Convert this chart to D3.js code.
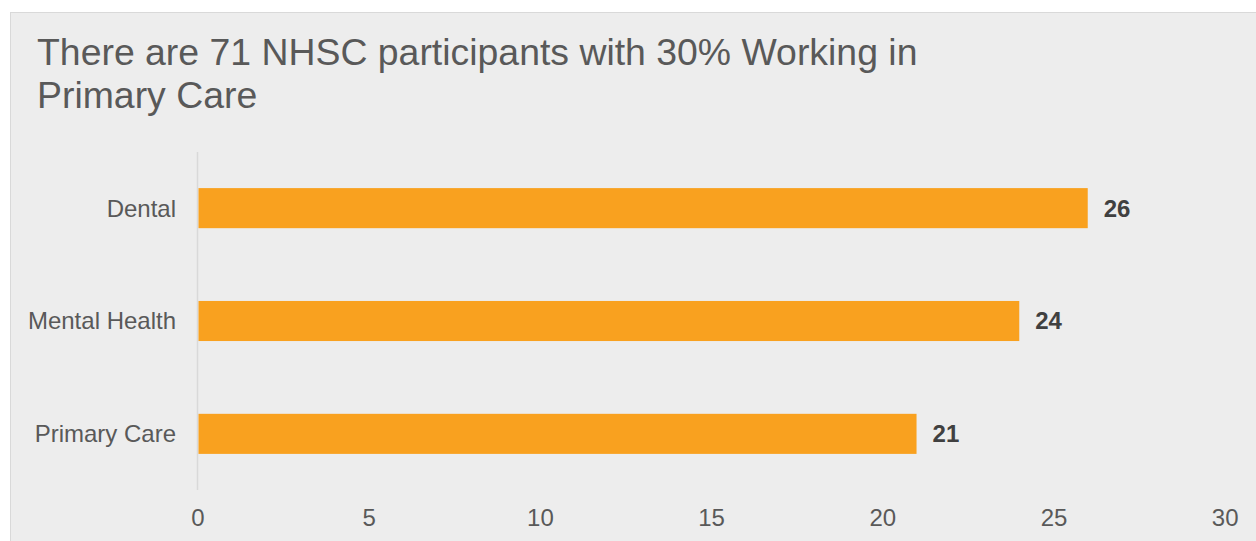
<!DOCTYPE html>
<html>
<head>
<script src="https://d3js.org/d3.v7.min.js"></script>
<style>
  body { margin: 0; background: #ffffff; }
  svg { display: block; font-family: "Liberation Sans", Arial, sans-serif; }
</style>
</head>
<body>
<svg id="chart"></svg>
<script>
// data
const categories = ['Dental', 'Mental Health', 'Primary Care'];
const values = [26, 24, 21];
const xTicks = [0, 5, 10, 15, 20, 25, 30];
const titleLines = ['There are 71 NHSC participants with 30% Working in', 'Primary Care'];

const W = 1256, H = 541;
let svg = d3.select('#chart').attr('width', W).attr('height', H);

// panel
svg.append('rect')
   .attr('x', 10.5).attr('y', 12.5)
   .attr('width', W).attr('height', H)
   .attr('fill', '#ededed')
   .attr('stroke', '#d9d9d9');

// title
svg.append('text')
   .attr('fill', '#595959')
   .attr('font-size', 37.4)
   .selectAll('tspan')
   .data(titleLines)
   .join('tspan')
   .attr('x', 37)
   .attr('y', (d, i) => 65 + i * 43)
   .text(d => d);

let x = d3.scaleLinear().domain([0, 30]).range([197.5, 1224.7]);
let y = d3.scaleBand().domain(categories).range([152, 490]).paddingInner(0.645).paddingOuter(0.32);

// axis line
svg.append('line')
   .attr('x1', x(0)).attr('x2', x(0))
   .attr('y1', 152).attr('y2', 490)
   .attr('stroke', '#d9d9d9').attr('stroke-width', 1.5);

let data = categories.map((c, i) => ({ cat: c, val: values[i] }));

svg.selectAll('.bar')
   .data(data)
   .join('rect')
   .attr('class', 'bar')
   .attr('x', x(0) + 1)
   .attr('y', d => y(d.cat))
   .attr('width', d => x(d.val) - x(0) - 1)
   .attr('height', y.bandwidth())
   .attr('fill', '#f9a11f');

// value labels
svg.selectAll('.val')
   .data(data)
   .join('text')
   .attr('class', 'val')
   .attr('x', d => x(d.val) + 16)
   .attr('y', d => y(d.cat) + y.bandwidth() / 2)
   .attr('dy', '0.35em')
   .attr('font-size', 24)
   .attr('font-weight', 'bold')
   .attr('fill', '#404040')
   .text(d => d.val);

// category labels
svg.selectAll('.cat')
   .data(data)
   .join('text')
   .attr('class', 'cat')
   .attr('x', 176)
   .attr('y', d => y(d.cat) + y.bandwidth() / 2)
   .attr('dy', '0.35em')
   .attr('text-anchor', 'end')
   .attr('font-size', 24)
   .attr('fill', '#595959')
   .text(d => d.cat);

// x axis labels
let xAxis = d3.axisBottom(x).tickValues(xTicks).tickSize(0).tickPadding(0);
let gx = svg.append('g')
   .attr('transform', 'translate(0,509)')
   .call(xAxis);
gx.select('.domain').remove();
gx.selectAll('text')
  .attr('font-size', 24)
  .attr('font-family', '"Liberation Sans", Arial, sans-serif')
  .attr('fill', '#595959');
</script>
</body>
</html>
